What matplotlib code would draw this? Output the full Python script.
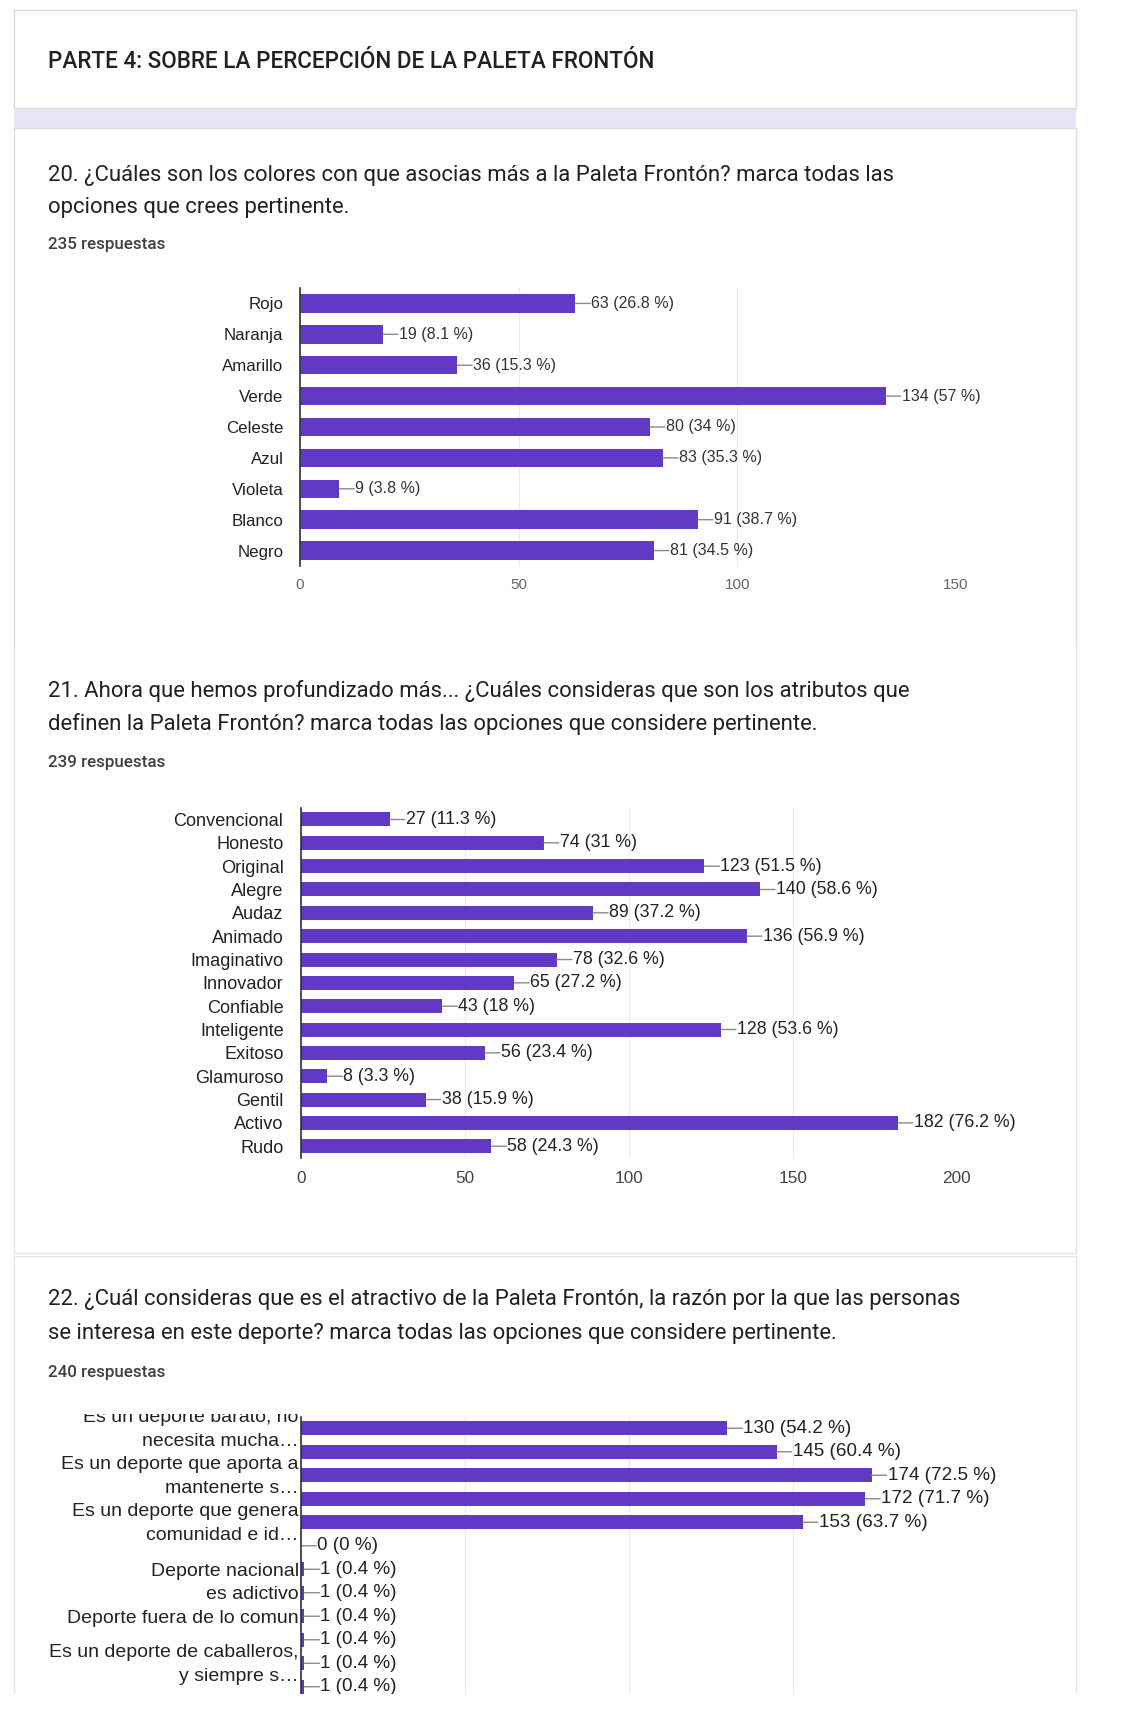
import matplotlib
matplotlib.use("Agg")
import matplotlib.pyplot as plt
import matplotlib.transforms as mtransforms
from matplotlib.patches import Rectangle
from matplotlib.lines import Line2D

# ---------------------------------------------------------------- data
section_title = "PARTE 4: SOBRE LA PERCEPCIÓN DE LA PALETA FRONTÓN"

q20_lines = ["20. ¿Cuáles son los colores con que asocias más a la Paleta Frontón? marca todas las",
             "opciones que crees pertinente."]
q20_count = "235 respuestas"
q20_cats = ["Rojo", "Naranja", "Amarillo", "Verde", "Celeste", "Azul", "Violeta", "Blanco", "Negro"]
q20_vals = [63, 19, 36, 134, 80, 83, 9, 91, 81]
q20_pcts = ["26.8", "8.1", "15.3", "57", "34", "35.3", "3.8", "38.7", "34.5"]
q20_ticks = [0, 50, 100, 150]

q21_lines = ["21. Ahora que hemos profundizado más... ¿Cuáles consideras que son los atributos que",
             "definen la Paleta Frontón? marca todas las opciones que considere pertinente."]
q21_count = "239 respuestas"
q21_cats = ["Convencional", "Honesto", "Original", "Alegre", "Audaz", "Animado", "Imaginativo",
            "Innovador", "Confiable", "Inteligente", "Exitoso", "Glamuroso", "Gentil", "Activo", "Rudo"]
q21_vals = [27, 74, 123, 140, 89, 136, 78, 65, 43, 128, 56, 8, 38, 182, 58]
q21_pcts = ["11.3", "31", "51.5", "58.6", "37.2", "56.9", "32.6", "27.2", "18", "53.6",
            "23.4", "3.3", "15.9", "76.2", "24.3"]
q21_ticks = [0, 50, 100, 150, 200]

q22_lines = ["22. ¿Cuál consideras que es el atractivo de la Paleta Frontón, la razón por la que las personas",
             "se interesa en este deporte? marca todas las opciones que considere pertinente."]
q22_count = "240 respuestas"
q22_cats = ["Es un deporte barato, no\nnecesita mucha…", "",
            "Es un deporte que aporta a\nmantenerte s…", "",
            "Es un deporte que genera\ncomunidad e id…", "",
            "Deporte nacional", "es adictivo", "Deporte fuera de lo comun", "",
            "Es un deporte de caballeros,\ny siempre s…", ""]
q22_vals = [130, 145, 174, 172, 153, 0, 1, 1, 1, 1, 1, 1]
q22_pcts = ["54.2", "60.4", "72.5", "71.7", "63.7", "0", "0.4", "0.4", "0.4", "0.4", "0.4", "0.4"]
q22_ticks = [0, 50, 100, 150, 200]

# ---------------------------------------------------------------- style
W, H, DPI = 1124, 1736, 100
PURPLE = "#6139c4"
INK = "#202124"
UI = ["Roboto", "DejaVu Sans"]
CH = ["Liberation Sans", "DejaVu Sans"]
PX2PT = 72.0 / DPI
BORDER = "#dcdcdc"

fig = plt.figure(figsize=(W / DPI, H / DPI), dpi=DPI)
fig.patch.set_facecolor("white")
renderer = fig.canvas.get_renderer()

bg = fig.add_axes([0, 0, 1, 1], zorder=0)
bg.set_xlim(0, W)
bg.set_ylim(H, 0)
bg.axis("off")


def fitted_size(text, width_px, **kw):
    t = fig.text(0, 0, text, fontsize=20, **kw)
    w = t.get_window_extent(renderer).width
    t.remove()
    return 20 * width_px / w


def card(top, bottom, edges=("l", "r", "t", "b"), color=BORDER):
    x0, x1 = 14, 1076
    bg.add_patch(Rectangle((x0, top), x1 - x0, bottom - top, facecolor="white",
                           edgecolor="none"))
    segs = {"l": ([x0, x0], [top, bottom]), "r": ([x1, x1], [top, bottom]),
            "t": ([x0, x1], [top, top]), "b": ([x0, x1], [bottom, bottom])}
    for e in edges:
        xs, ys = segs[e]
        bg.add_line(Line2D(xs, ys, color=color, lw=1.0))


# page cards and the lavender strip under the section header
card(10, 108)
bg.add_patch(Rectangle((14, 108), 1062, 20, facecolor="#e9e5f6", edgecolor="none"))
card(128, 646, edges=("l", "r", "t"))
card(646, 1253, edges=("l", "r", "b"), color="#e6e6e6")
card(1256, 1736, edges=("l", "r", "t"), color="#e6e6e6")

# ---------------------------------------------------------------- header texts
title_fs = fitted_size(section_title, 606, family=UI, weight="medium")
q_fs = fitted_size(q20_lines[0], 845, family=UI)
cnt_fs = fitted_size(q20_count, 118, family=UI, weight="medium")

bg.text(47.6, 62, section_title, fontsize=title_fs, family=UI, weight="medium",
        color=INK, va="center")
for lines, count, y1, y2, yc in ((q20_lines, q20_count, 175, 207, 245),
                                 (q21_lines, q21_count, 691, 724, 762),
                                 (q22_lines, q22_count, 1300, 1334, 1372)):
    bg.text(47.6, y1, lines[0], fontsize=q_fs, family=UI, color=INK, va="center")
    bg.text(47.6, y2, lines[1], fontsize=q_fs, family=UI, color=INK, va="center")
    bg.text(47.6, yc, count, fontsize=cnt_fs, family=UI, weight="medium",
            color="#3c4043", va="center")


# ---------------------------------------------------------------- bar charts
def bar_chart(left, right, top, bottom, cats, vals, pcts, xmax, ticks,
              label_fs, val_fs, tick_fs, ypad_px, xpad_px, label_color, val_color,
              tick_color, show_xticks=True, linespacing=1.2):
    ax = fig.add_axes([left / W, 1 - bottom / H, (right - left) / W, (bottom - top) / H],
                      zorder=2)
    ax.patch.set_alpha(0)
    pos = list(range(len(vals)))
    ax.barh(pos, vals, height=0.6, color=PURPLE, zorder=2)
    ax.set_xlim(0, xmax)
    ax.set_ylim(len(vals) - 0.5, -0.5)
    ax.set_xticks(ticks)
    ax.set_xticklabels([str(t) for t in ticks], fontsize=tick_fs, family=CH, color=tick_color)
    ax.set_yticks(pos)
    ax.set_yticklabels(cats, fontsize=label_fs, family=CH, color=label_color,
                       linespacing=linespacing)
    ax.tick_params(axis="y", length=0, pad=ypad_px * PX2PT)
    ax.tick_params(axis="x", length=0, pad=xpad_px * PX2PT, labelbottom=show_xticks)
    # two-line labels are centred as a block on their bar
    lift = mtransforms.ScaledTranslation(0, 4.5 / DPI, fig.dpi_scale_trans)
    for tick in ax.yaxis.get_major_ticks():
        lab = tick.label1
        if "\n" in lab.get_text():
            lab.set_transform(lab.get_transform() + lift)
    ax.grid(axis="x", color="#ececec", lw=1.0)
    ax.set_axisbelow(True)
    for s in ("top", "right", "bottom"):
        ax.spines[s].set_visible(False)
    ax.spines["left"].set_color("#333333")
    ax.spines["left"].set_linewidth(1.2)
    ax.spines["left"].set_zorder(3)
    for i, (v, p) in enumerate(zip(vals, pcts)):
        ax.annotate("", xy=(v, i), xytext=(15, 0), textcoords="offset pixels",
                    arrowprops=dict(arrowstyle="-", color="#8a8a8a", lw=1.0,
                                    shrinkA=0, shrinkB=0))
        ax.annotate(f"{v} ({p} %)", xy=(v, i), xytext=(16, 0), textcoords="offset pixels",
                    va="center", ha="left", fontsize=val_fs, family=CH, color=val_color)
    return ax


bar_chart(300, 955.7, 288, 566, q20_cats, q20_vals, q20_pcts, 150, q20_ticks,
          label_fs=fitted_size("Amarillo", 61, family=CH),
          val_fs=fitted_size("134 (57 %)", 78.6, family=CH),
          tick_fs=fitted_size("150", 25.5, family=CH),
          ypad_px=16.5, xpad_px=12, label_color="#222222", val_color="#333333",
          tick_color="#666666")

bar_chart(301.2, 956.8, 807.8, 1157.9, q21_cats, q21_vals, q21_pcts, 200, q21_ticks,
          label_fs=fitted_size("Convencional", 109.6, family=CH),
          val_fs=fitted_size("182 (76.2 %)", 102, family=CH),
          tick_fs=fitted_size("200", 28.8, family=CH),
          ypad_px=17.7, xpad_px=13, label_color="#222222", val_color="#222222",
          tick_color="#444444")

bar_chart(301.2, 956.8, 1416.5, 1698.5, q22_cats, q22_vals, q22_pcts, 200, q22_ticks,
          label_fs=fitted_size("Deporte fuera de lo comun", 230, family=CH),
          val_fs=fitted_size("174 (72.5 %)", 108.5, family=CH),
          tick_fs=12, ypad_px=2.5, xpad_px=13, label_color="#222222",
          val_color="#222222", tick_color="#444444", show_xticks=False, linespacing=1.57)

# the last card is scrolled: its chart is cut at the top and at the bottom edge
top_ax = fig.add_axes([0, 0, 1, 1], zorder=10)
top_ax.set_xlim(0, W)
top_ax.set_ylim(H, 0)
top_ax.axis("off")
top_ax.patch.set_alpha(0)
top_ax.add_patch(Rectangle((16, 1385), 1058, 29, facecolor="white", edgecolor="none"))
top_ax.add_patch(Rectangle((0, 1694), W, H - 1694, facecolor="white", edgecolor="none"))

fig.savefig("out.png", dpi=DPI, facecolor="white")
